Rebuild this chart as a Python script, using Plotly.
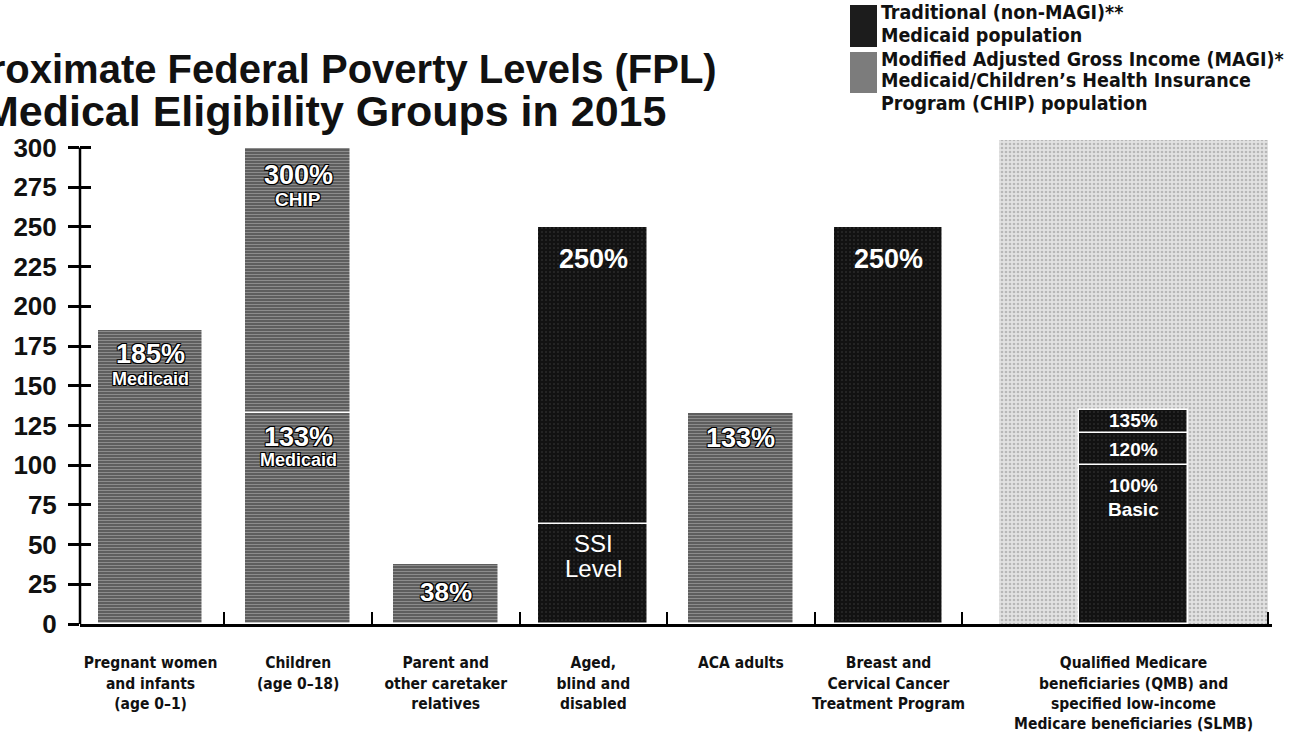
import plotly.graph_objects as go

# ---------------- data ----------------
categories = [
    "Pregnant women<br>and infants<br>(age 0–1)",
    "Children<br>(age 0–18)",
    "Parent and<br>other caretaker<br>relatives",
    "Aged,<br>blind and<br>disabled",
    "ACA adults",
    "Breast and<br>Cervical Cancer<br>Treatment Program",
    "Qualified Medicare<br>beneficiaries (QMB) and<br>specified low-income<br>Medicare beneficiaries (SLMB)",
]
cat_pos = [0, 1, 2, 3, 4, 5, 6.66]

# MAGI (Medicaid/CHIP) segments: category index, lower bound, upper bound (% FPL)
magi_cat = [0, 1, 1, 2, 4]
magi_lo = [0, 0, 133, 0, 0]
magi_hi = [185, 133, 300, 38, 133]

# Traditional (non-MAGI) segments
trad_cat = [3, 3, 5, 6, 6, 6]
trad_lo = [0, 63, 0, 0, 100, 120]
trad_hi = [63, 250, 250, 100, 120, 135]

# light background panel for the QMB/SLMB group
panel_cat = [6]
panel_hi = [305]

y_ticks = [0, 25, 50, 75, 100, 125, 150, 175, 200, 225, 250, 275, 300]

# in-bar labels: category index, label y (data units), text, size, style
bar_labels = [
    (0, 170, "185%", 27, "outline"),
    (0, 154, "Medicaid", 18, "outline"),
    (1, 283, "300%", 27, "outline"),
    (1, 267, "CHIP", 19, "outline"),
    (1, 118, "133%", 27, "outline"),
    (1, 103, "Medicaid", 18, "outline"),
    (2, 20, "38%", 26, "outline"),
    (3, 230, "250%", 27, "plain"),
    (3, 51, "SSI", 24, "plainreg"),
    (3, 35, "Level", 24, "plainreg"),
    (4, 117, "133%", 27, "outline"),
    (5, 230, "250%", 27, "plain"),
    (6, 128, "135%", 19, "plain"),
    (6, 110, "120%", 19, "plain"),
    (6, 87, "100%", 19, "plain"),
    (6, 72, "Basic", 19, "plain"),
]

legend_lines = [
    "Traditional (non-MAGI)**",
    "Medicaid population",
    "Modified Adjusted Gross Income (MAGI)*",
    "Medicaid/Children’s Health Insurance",
    "Program (CHIP) population",
]

# ---------------- layout geometry ----------------
W, H = 1296, 735
L, R, T, B = 80, 24, 138, 111
Y_RANGE = [0, 306]
bar_w = 0.715
panel_w = 1.82
x_range = [-0.478, 7.598]


def px_x(px):
    return (px - L) / (W - L - R)


def px_y(py):
    return 1 - (py - T) / (H - T - B)


NARROW = "Liberation Sans Narrow, Arial Narrow, DejaVu Sans Condensed, sans-serif"
SANS = "Liberation Sans, Arial, Helvetica, sans-serif"

MAGI_COL = "#6e6e6e"
TRAD_COL = "#161616"
PANEL_COL = "#d2d2d2"

fig = go.Figure()

# panel behind QMB group
fig.add_trace(go.Bar(
    x=[cat_pos[c] for c in panel_cat], y=panel_hi, base=[0] * len(panel_hi),
    width=panel_w,
    marker=dict(color=PANEL_COL, line=dict(width=0),
                pattern=dict(shape=".", fgcolor="#8c8c8c", bgcolor="#e2e2e2",
                             size=4, solidity=0.35)),
    showlegend=False, hoverinfo="skip",
))

fig.add_trace(go.Bar(
    x=[cat_pos[c] for c in magi_cat],
    y=[h - l for h, l in zip(magi_hi, magi_lo)],
    base=magi_lo, width=bar_w,
    marker=dict(color=MAGI_COL, line=dict(color="white", width=1.5),
                pattern=dict(shape="-", fgcolor="#c4c4c4", bgcolor="#5e5e5e",
                             size=3, solidity=0.3)),
    name="MAGI", showlegend=False,
))

fig.add_trace(go.Bar(
    x=[cat_pos[c] for c in trad_cat],
    y=[h - l for h, l in zip(trad_hi, trad_lo)],
    base=trad_lo, width=[bar_w * 1.04] * len(trad_cat),
    marker=dict(color=TRAD_COL, line=dict(color="white", width=1.5),
                pattern=dict(shape=".", fgcolor="#6a6a6a", bgcolor="#121212",
                             size=4, solidity=0.12)),
    name="Traditional", showlegend=False,
))

# helper invisible trace for overlay axes (tick marks crossing axes)
fig.add_trace(go.Scatter(x=[x_range[0]], y=[0], xaxis="x2", yaxis="y2",
                         mode="markers", marker=dict(opacity=0),
                         showlegend=False, hoverinfo="skip"))

mid_ticks = [(cat_pos[i] + cat_pos[i + 1]) / 2 if i < 5 else cat_pos[5] + 0.5
             for i in range(6)]
mid_ticks.append(cat_pos[6] + panel_w / 2)

fig.update_layout(
    width=W, height=H, autosize=False,
    margin=dict(l=L, r=R, t=T, b=B, pad=0, autoexpand=False),
    plot_bgcolor="white", paper_bgcolor="white",
    barmode="overlay", bargap=0,
    xaxis=dict(
        range=x_range, tickmode="array", tickvals=cat_pos, ticktext=categories,
        ticks="", showgrid=False, zeroline=False, automargin=False,
        showline=True, linecolor="black", linewidth=2.5,
        tickfont=dict(family=NARROW, size=15.5, color="#111", weight="bold"),
        ticklabelstandoff=23,
    ),
    xaxis2=dict(
        range=x_range, overlaying="x", anchor="y2", side="bottom",
        tickmode="array", tickvals=mid_ticks, ticks="inside", ticklen=12,
        tickwidth=2, tickcolor="black", showticklabels=False, automargin=False,
        showgrid=False, zeroline=False, showline=False,
    ),
    yaxis=dict(
        range=Y_RANGE, tickmode="array", tickvals=y_ticks,
        ticks="outside", ticklen=11, tickwidth=2.5, tickcolor="black",
        showgrid=False, zeroline=False, showline=False, automargin=False,
        tickfont=dict(family=SANS, size=26, color="#111", weight="bold"),
        ticklabelstandoff=6,
    ),
    yaxis2=dict(
        range=Y_RANGE, overlaying="y", anchor="x2", side="left",
        tickmode="array", tickvals=y_ticks, ticks="inside", ticklen=11,
        tickwidth=2.5, tickcolor="black", showticklabels=False, automargin=False,
        showgrid=False, zeroline=False, showline=False,
    ),
    font=dict(family=SANS),
)

# y spine, up to the top tick
fig.add_shape(type="line", xref="paper", yref="y", x0=0, x1=0,
              y0=y_ticks[0], y1=y_ticks[-1], line=dict(color="black", width=2.5))

# in-bar labels
outline = "1px 1px 0 #000, -1px -1px 0 #000, 1px -1px 0 #000, -1px 1px 0 #000"
for c, yv, txt, size, style in bar_labels:
    f = dict(family=SANS, size=size, color="white",
             weight="normal" if style == "plainreg" else "bold")
    if style == "outline":
        f["shadow"] = outline
    fig.add_annotation(x=cat_pos[c], y=yv, xref="x", yref="y", text=txt,
                       showarrow=False, font=f, xanchor="center", yanchor="middle")

# title (left part cut off at the page edge, as in the original scan)
fig.add_annotation(xref="paper", yref="paper", x=px_x(719), y=px_y(69),
                   xanchor="right", yanchor="middle", showarrow=False,
                   text="Approximate Federal Poverty Levels (FPL)",
                   font=dict(family=SANS, size=40, color="#111", weight="bold"))
fig.add_annotation(xref="paper", yref="paper", x=px_x(668), y=px_y(111),
                   xanchor="right", yanchor="middle", showarrow=False,
                   text="Medical Eligibility Groups in 2015",
                   font=dict(family=SANS, size=43, color="#111", weight="bold"))

# custom legend
fig.add_shape(type="rect", xref="paper", yref="paper",
              x0=px_x(850), x1=px_x(877), y0=px_y(47), y1=px_y(5),
              fillcolor="#1c1c1c", line=dict(width=0))
fig.add_shape(type="rect", xref="paper", yref="paper",
              x0=px_x(850), x1=px_x(877), y0=px_y(93), y1=px_y(52),
              fillcolor="#7c7c7c", line=dict(width=0))
legend_y = [13, 35, 59, 81, 103]
for txt, yy in zip(legend_lines, legend_y):
    fig.add_annotation(xref="paper", yref="paper", x=px_x(879), y=px_y(yy),
                       xanchor="left", yanchor="middle", align="left",
                       showarrow=False, text=txt,
                       font=dict(family=NARROW, size=19.5, color="#111", weight="bold"))

fig.write_html("out.html", config={"displayModeBar": False},
               post_script="document.body.style.margin='0px';")
